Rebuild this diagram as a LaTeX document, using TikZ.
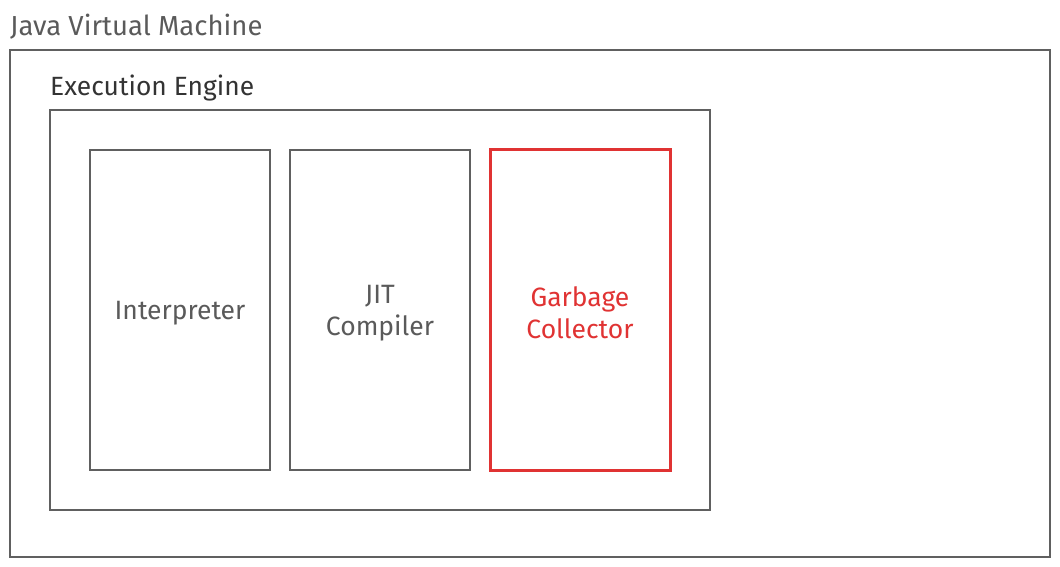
\documentclass[tikz,border=0pt]{standalone}
\usepackage{fontspec}
\setmainfont{Fira Sans}
\definecolor{linegray}{HTML}{606060}
\definecolor{txtgray}{HTML}{5A5A5A}
\definecolor{txtdark}{HTML}{333333}
\definecolor{gcred}{HTML}{E03333}
\tikzset{
  frame/.style={draw=linegray, line width=2pt},
  comp/.style={draw=linegray, line width=2pt, inner sep=0pt, minimum width=180pt, minimum height=320pt},
  gcbox/.style={draw=gcred, line width=3pt, inner sep=0pt, minimum width=180pt, minimum height=320pt},
  comptext/.style={font=\fontsize{26.5}{32}\selectfont, align=center, inner sep=0pt},
  lbl/.style={anchor=base west, inner sep=0pt}
}
\begin{document}
\begin{tikzpicture}[x=1pt,y=-1pt]
\useasboundingbox (0,0) rectangle (1060,567);
\node[lbl, text=txtgray, font=\fontsize{27.5}{32}\selectfont] (jvmlbl) at (10,36) {Java Virtual Machine};
\draw[frame] (10,50) rectangle (1050,557);
\node[lbl, text=txtdark, font=\fontsize{26.4}{32}\selectfont] (eelbl) at (50,96) {Execution Engine};
\draw[frame] (50,110) rectangle (710,510);
\node[comp] (interp) at (180,310) {};
\node[comp] (jit) at (380,310) {};
\node[gcbox] (gc) at (580,310) {};
\node[comptext, text=txtgray] (interptxt) at ([yshift=-3pt]interp.center) {Interpreter};
\node[comptext, text=txtgray] (jittxt) at ([yshift=-3pt]jit.center) {JIT\\Compiler};
\node[comptext, text=gcred] (gctxt) at ([yshift=-3pt]gc.center) {Garbage\\Collector};
\end{tikzpicture}
\end{document}
